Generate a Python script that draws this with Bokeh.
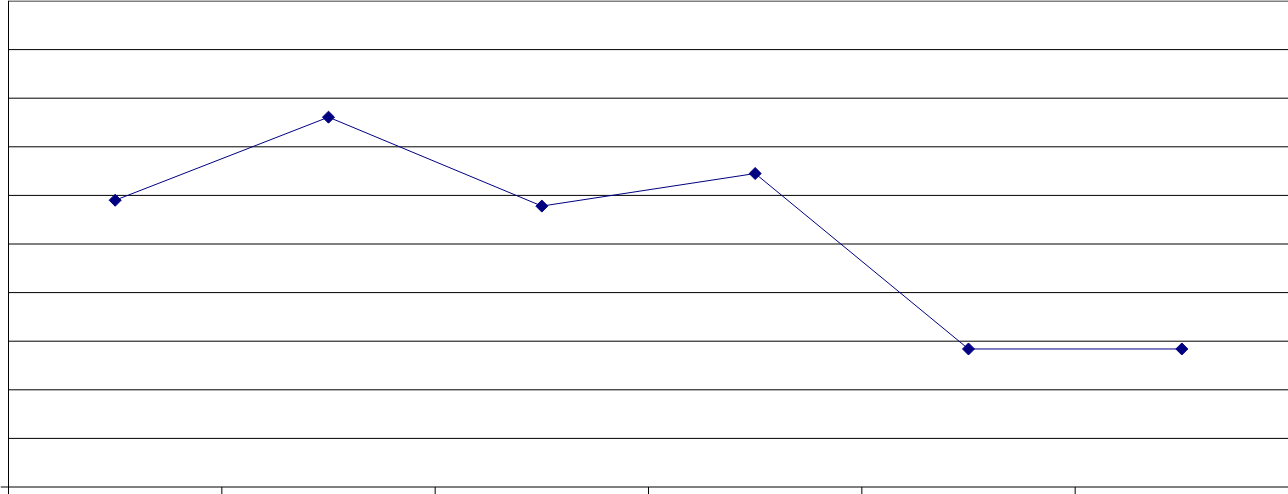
import math
from bokeh.plotting import figure
from bokeh.models import Range1d, Span
from bokeh.embed import file_html
from bokeh.resources import INLINE

categories = [1, 2, 3, 4, 5, 6]
values = [5.9, 7.61, 5.78, 6.45, 2.84, 2.84]
y_ticks = [1, 2, 3, 4, 5, 6, 7, 8, 9, 10]
x_boundaries = [0.5, 1.5, 2.5, 3.5, 4.5, 5.5, 6.5]

W, H = 1288, 494
PX_X = 213.333   # pixels per category
PX_Y = 48.6      # pixels per y unit
LEFT = 8         # pixels left of the value axis
BOTTOM = 7.5     # pixels below the category axis
TICK = 7         # tick length in pixels

x0 = 0.5 - LEFT / PX_X
y0 = -BOTTOM / PX_Y
p = figure(width=W, height=H, output_backend="svg", toolbar_location=None,
           x_range=Range1d(x0, x0 + W / PX_X), y_range=Range1d(y0, y0 + H / PX_Y),
           min_border_left=0, min_border_right=0, min_border_top=0, min_border_bottom=0)
p.outline_line_color = None
p.background_fill_color = "white"
p.border_fill_color = "white"
p.xaxis.visible = False
p.yaxis.visible = False
p.xgrid.grid_line_color = None
p.ygrid.grid_line_color = None

# horizontal gridlines across the plot area only
p.segment(x0=[x_boundaries[0]] * len(y_ticks), x1=[x_boundaries[-1]] * len(y_ticks),
          y0=y_ticks, y1=y_ticks, line_color="black", line_width=1)

# axes lines
p.add_layout(Span(location=0, dimension="width", line_color="black", line_width=1))
p.add_layout(Span(location=x_boundaries[0], dimension="height", line_color="black", line_width=1))

# category-axis tick marks (between categories)
p.segment(x0=x_boundaries, x1=x_boundaries, y0=[0] * len(x_boundaries),
          y1=[-TICK / PX_Y] * len(x_boundaries), line_color="black", line_width=1)

# data series
p.line(categories, values, line_color="#000080", line_width=1)
p.scatter(categories, values, marker="square", size=8.5, angle=math.pi / 4,
          fill_color="#000080", line_color="#000080")

open("out.html", "w").write(file_html(p, INLINE))
